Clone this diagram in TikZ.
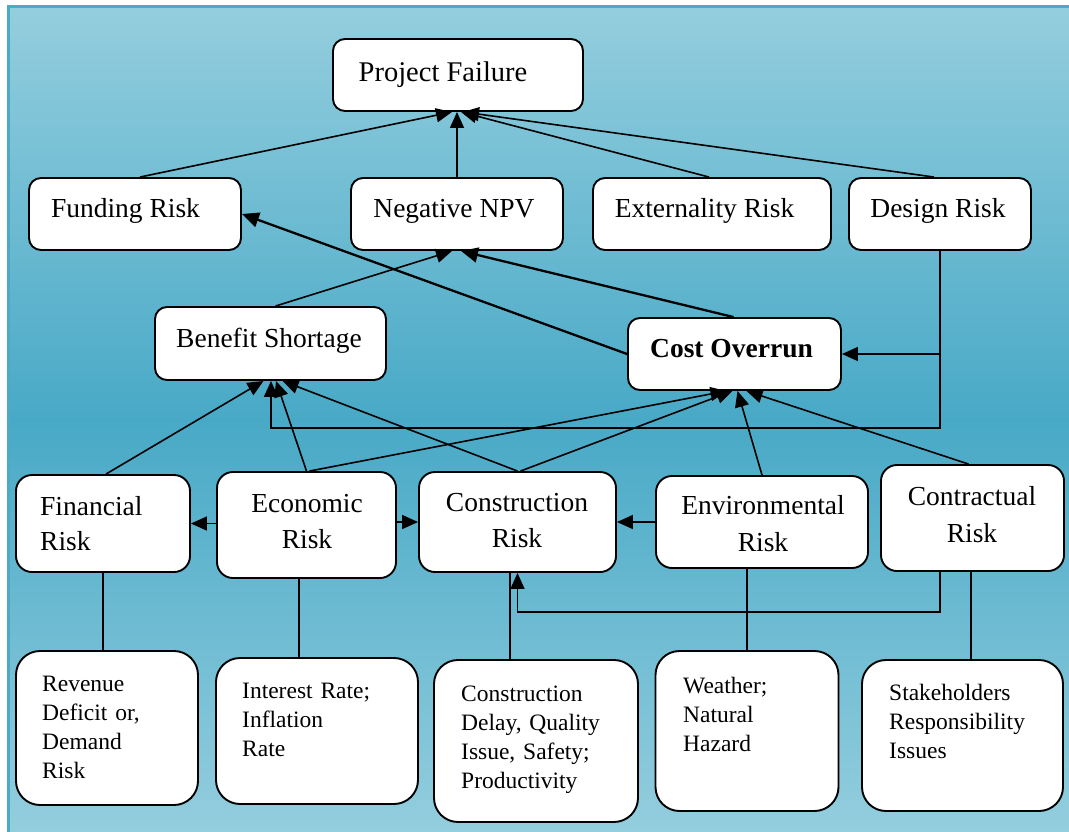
\documentclass[tikz,border=0pt]{standalone}
\usepackage{fontspec}
\setmainfont{Liberation Serif}
\usetikzlibrary{arrows.meta}
\definecolor{bgtop}{RGB}{148,206,222}
\definecolor{bgmid}{RGB}{72,169,198}
\definecolor{framec}{RGB}{74,171,200}
\begin{document}
\begin{tikzpicture}[x=1pt,y=-1pt,
  box/.style={draw=black, fill=white, line width=1.9pt, inner sep=0pt, rounded corners=12pt},
  midbox/.style={box, rounded corners=16pt},
  lowbox/.style={box, rounded corners=24pt},
  txt/.style={inner sep=0pt, font=\fontsize{27.5}{36}\selectfont},
  lowtxt/.style={inner sep=0pt, font=\fontsize{23.5}{29}\selectfont, text width=175pt, align=left, anchor=base west},
  arr/.style={-{Triangle[length=16pt,width=14pt]}, line width=1.6pt},
  tarr/.style={-{Triangle[length=17pt,width=15pt]}, line width=2.3pt},
  plain/.style={line width=1.6pt}
]
\useasboundingbox (0,0) rectangle (1069,831);
\fill[white] (0,0) rectangle (1069,831);
\shade[top color=bgtop, bottom color=bgtop, middle color=bgmid] (8.5,6.5) rectangle (1072,834);
\draw[framec, line width=3pt] (1072,6.5) -- (8.5,6.5) -- (8.5,834);

% boxes
\node[box, minimum width=250pt, minimum height=72pt] (pf) at (458,75) {};
\node[box, minimum width=212pt, minimum height=72pt] (fund) at (135,214) {};
\node[box, minimum width=212pt, minimum height=72pt] (npv) at (457,214) {};
\node[box, minimum width=238pt, minimum height=72pt] (ext) at (712,214) {};
\node[box, minimum width=182pt, minimum height=72pt] (des) at (940,214) {};
\node[box, minimum width=231pt, minimum height=73pt] (ben) at (270.5,343.5) {};
\node[box, minimum width=213pt, minimum height=72pt] (cost) at (734.5,354) {};
\node[midbox, minimum width=174pt, minimum height=97pt] (fin) at (103,523.5) {};
\node[midbox, minimum width=179pt, minimum height=106pt] (eco) at (306.5,525) {};
\node[midbox, minimum width=197pt, minimum height=100pt] (con) at (517.5,522) {};
\node[midbox, minimum width=212pt, minimum height=92pt] (env) at (762,522) {};
\node[midbox, minimum width=183pt, minimum height=106pt] (ctr) at (972.5,518) {};
\node[lowbox, minimum width=182pt, minimum height=154pt] (rev) at (107,728) {};
\node[lowbox, minimum width=202pt, minimum height=146pt] (int) at (317,731) {};
\node[lowbox, minimum width=204pt, minimum height=162pt] (cdl) at (536,741) {};
\node[lowbox, minimum width=183pt, minimum height=160pt] (wea) at (747,731) {};
\node[lowbox, minimum width=201pt, minimum height=151pt] (stk) at (962.5,735.5) {};

% coordinates for loops
\coordinate (loopA) at (271,428);
\coordinate (loopB) at (517.5,612);

% connectors to Project Failure
\draw[arr] ([xshift=5pt]fund.north) -- ([xshift=-6pt]pf.south);
\draw[arr] (npv.north) -- ([xshift=-1pt]pf.south);
\draw[arr] ([xshift=-3pt]ext.north) -- ([xshift=3pt]pf.south);
\draw[arr] ([xshift=-6pt]des.north) -- ([xshift=5pt]pf.south);

% to Negative NPV
\draw[arr] ([xshift=5pt]ben.north) -- ([xshift=-5pt]npv.south);
\draw[tarr] ([xshift=-1pt]cost.north) -- ([xshift=4pt]npv.south);
% Cost overrun to funding risk
\draw[tarr] (cost.west) -- (fund.east);

% Design risk loop
\draw[arr] (des.south) |- (cost.east);
\draw[arr] (des.south) |- (loopA) -- (loopA |- ben.south);

% to Benefit Shortage
\draw[arr] ([xshift=3pt]fin.north) -- ([xshift=-7pt]ben.south);
\draw[arr] (eco.north) -- ([xshift=5.5pt]ben.south);
\draw[arr] (con.north) -- ([xshift=12pt]ben.south);

% to Cost Overrun
\draw[arr] ([xshift=3pt]eco.north) -- ([xshift=-8pt]cost.south);
\draw[arr] ([xshift=3pt]con.north) -- ([xshift=-2pt]cost.south);
\draw[arr] (env.north) -- ([xshift=3pt]cost.south);
\draw[arr] ([xshift=-4pt]ctr.north) -- ([xshift=12pt]cost.south);

% horizontal arrows
\draw[arr] (eco.west |- fin.east) -- (fin.east);
\draw[arr] (eco.east |- con.west) -- (con.west);
\draw[arr] (env.west) -- (con.east |- env.west);
\draw[arr] ([xshift=-32.5pt]ctr.south) |- (loopB) -- (con.south);

% plain links to detail boxes
\draw[plain] (fin.south) -- (fin.south |- rev.north);
\draw[plain] ([xshift=-7.5pt]eco.south) -- ([xshift=-7.5pt]eco.south |- int.north);
\draw[plain] ([xshift=-7.5pt]con.south) -- ([xshift=-7.5pt]con.south |- cdl.north);
\draw[plain] (wea.north) -- (wea.north |- env.south);
\draw[plain] ([xshift=-1.5pt]ctr.south) -- ([xshift=-1.5pt]ctr.south |- stk.north);

% texts
\node[txt, font=\fontsize{28.5}{36}\selectfont, anchor=base] (pft) at (443,81) {Project Failure};
\node[txt, anchor=base] (fundt) at (125.5,217) {Funding Risk};
\node[txt, anchor=base] (npvt) at (454,217) {Negative NPV};
\node[txt, anchor=base] (extt) at (704.5,217) {Externality Risk};
\node[txt, anchor=base] (dest) at (938,217) {Design Risk};
\node[txt, anchor=base] (bent) at (269,347) {Benefit Shortage};
\node[txt, anchor=base] (costt) at (731.5,357) {\textbf{Cost Overrun}};
\node[txt, anchor=base west, text width=140pt, align=left, font=\fontsize{27.5}{35}\selectfont] (fint) at (40,515) {Financial\\Risk};
\node[txt, anchor=base, text width=170pt, align=center] (ecot) at (307,512) {Economic\\Risk};
\node[txt, anchor=base, text width=190pt, align=center] (cont) at (517,511) {Construction\\Risk};
\node[txt, anchor=base, text width=205pt, align=center, font=\fontsize{27.5}{37}\selectfont] (envt) at (763,514) {Environmental\\Risk};
\node[txt, anchor=base, text width=175pt, align=center, font=\fontsize{27.5}{37}\selectfont] (ctrt) at (972,505) {Contractual\\Risk};
\node[lowtxt] (revt) at (42,691) {Revenue\\Deficit or,\\Demand\\Risk};
\node[lowtxt] (intt) at (242,698) {Interest Rate;\\Inflation\\Rate};
\node[lowtxt] (cdlt) at (461,701) {Construction\\Delay, Quality\\Issue, Safety;\\Productivity};
\node[lowtxt] (weat) at (683,693) {Weather;\\Natural\\Hazard};
\node[lowtxt] (stkt) at (889,700) {Stakeholders\\Responsibility\\Issues};
\end{tikzpicture}
\end{document}
